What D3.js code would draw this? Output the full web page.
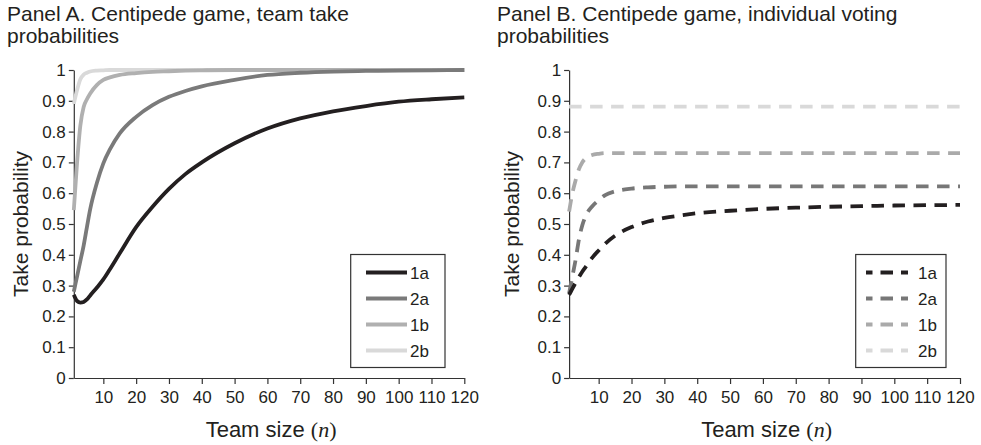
<!DOCTYPE html>
<html><head><meta charset="utf-8">
<script src="https://cdn.jsdelivr.net/npm/d3@7"></script>
<style>
body{margin:0;background:#fff;}
svg{display:block;font-family:"Liberation Sans",Arial,sans-serif;}
</style></head>
<body><svg id="c" width="981" height="445"></svg>
<script>
const seriesNames = ["1a","2a","1b","2b"];
const xTicks = [10,20,30,40,50,60,70,80,90,100,110,120];
const yTicks = [0,0.1,0.2,0.3,0.4,0.5,0.6,0.7,0.8,0.9,1];

const nA = [1,2,3,4,5,6,8,10,12,15,20,25,30,35,40,50,60,70,80,90,100,110,120];
const a_1a = [0.27,0.25,0.245,0.247,0.255,0.268,0.293,0.32,0.353,0.405,0.49,0.556,0.614,0.662,0.70,0.762,0.81,0.843,0.866,0.883,0.897,0.905,0.911];
const a_2a = [0.28,0.33,0.38,0.43,0.49,0.548,0.632,0.697,0.742,0.794,0.848,0.886,0.913,0.932,0.947,0.968,0.984,0.991,0.995,0.997,0.998,0.999,1.0];
const a_1b = [0.545,0.70,0.82,0.88,0.905,0.924,0.951,0.968,0.976,0.984,0.99,0.994,0.996,0.998,0.999,1,1,1,1,1,1,1,1];
const a_2b = [0.89,0.935,0.97,0.985,0.991,0.995,0.998,0.999,1,1,1,1,1,1,1,1,1,1,1,1,1,1,1];

const nB = [1,2,3,4,5,6,8,10,12,15,20,25,30,35,40,50,60,70,80,90,100,110,120];
const b_1a = [0.27,0.29,0.31,0.328,0.345,0.36,0.39,0.414,0.436,0.462,0.49,0.508,0.52,0.528,0.535,0.543,0.549,0.553,0.556,0.558,0.56,0.561,0.562];
const b_2a = [0.275,0.33,0.385,0.45,0.495,0.525,0.557,0.577,0.594,0.606,0.615,0.619,0.621,0.622,0.622,0.622,0.622,0.622,0.622,0.622,0.622,0.622,0.622];
const b_1b = [0.54,0.60,0.643,0.678,0.70,0.713,0.724,0.728,0.73,0.73,0.73,0.73,0.73,0.73,0.73,0.73,0.73,0.73,0.73,0.73,0.73,0.73,0.73];
const b_2b = [0.881,0.881,0.881,0.881,0.881,0.881,0.881,0.881,0.881,0.881,0.881,0.881,0.881,0.881,0.881,0.881,0.881,0.881,0.881,0.881,0.881,0.881,0.881];

const colorsA = ["#231f20","#7a7a7a","#b0b0b0","#d9d9d9"];
const colorsB = ["#231f20","#777777","#aaaaaa","#d9d9d9"];

const svg = d3.select("#c");
const axisColor = "#333";
const textColor = "#231f20";

function panel(opts){
  const g = svg.append("g");
  const x = d3.scaleLinear().domain([1,120]).range([opts.x0, opts.x1]);
  const y = d3.scaleLinear().domain([0,1]).range([378,70]);

  const t = g.append("text").attr("font-size", 21).attr("fill", textColor);
  t.append("tspan").attr("x", opts.tx).attr("y", 21).text(opts.title1);
  t.append("tspan").attr("x", opts.tx).attr("y", 43).text(opts.title2);

  const ya = g.append("g").attr("transform", `translate(${opts.x0},0)`)
    .call(d3.axisLeft(y).tickValues(yTicks).tickFormat(d3.format("~g")).tickSize(5).tickSizeOuter(0).tickPadding(3));
  const xa = g.append("g").attr("transform", `translate(0,378)`)
    .call(d3.axisBottom(x).tickValues(xTicks).tickSize(6).tickSizeOuter(0).tickPadding(7));
  [ya, xa].forEach(a => {
    a.selectAll("path,line").attr("stroke", axisColor).attr("stroke-width", 1.2);
    a.selectAll("text").attr("font-size", 17).attr("fill", textColor)
      .attr("font-family", '"Liberation Sans",Arial,sans-serif');
  });

  g.append("text").attr("transform", `translate(${opts.ylx},224) rotate(-90)`)
    .attr("text-anchor","middle").attr("font-size", 21).attr("fill", textColor)
    .text("Take probability");

  const xl = g.append("text").attr("x", (opts.x0+opts.x1)/2 + 2).attr("y", 437)
    .attr("text-anchor","middle").attr("font-size", 22).attr("fill", textColor);
  xl.append("tspan").text("Team size ");
  xl.append("tspan").attr("font-family",'"Liberation Serif","Times New Roman",serif').text("(");
  xl.append("tspan").attr("font-family",'"Liberation Serif","Times New Roman",serif').attr("font-style","italic").text("n");
  xl.append("tspan").attr("font-family",'"Liberation Serif","Times New Roman",serif').text(")");

  const line = d3.line().x(d => x(d[0])).y(d => y(d[1])).curve(d3.curveMonotoneX);
  [3,2,1,0].forEach(i => {
    const pts = opts.n.map((nv,k) => [nv, opts.data[i][k]]);
    g.append("path").datum(pts).attr("d", line)
      .attr("fill","none").attr("stroke", opts.colors[i]).attr("stroke-width", 3.8)
      .attr("stroke-dasharray", opts.dashed ? "12.5,8.5" : null)
      .attr("stroke-linejoin","round");
  });

  const lg = g.append("g");
  lg.append("rect").attr("x", opts.lx0).attr("y", 254.5).attr("width", opts.lx1-opts.lx0).attr("height", 113)
    .attr("fill","#fff").attr("stroke", axisColor).attr("stroke-width", 1.2);
  seriesNames.forEach((s,i) => {
    const yy = 272.5 + i*26;
    lg.append("line").attr("x1", opts.lLine0).attr("x2", opts.lLine1).attr("y1", yy).attr("y2", yy)
      .attr("stroke", opts.colors[i]).attr("stroke-width", 3.8)
      .attr("stroke-dasharray", opts.dashed ? "12.5,8" : null)
      .attr("stroke-dashoffset", opts.dashed ? 6 : null);
    lg.append("text").attr("x", opts.lText).attr("y", yy + 6).attr("font-size", 17)
      .attr("fill", textColor).text(s);
  });
}

panel({x0:73.8, x1:464.3, tx:7, title1:"Panel A. Centipede game, team take", title2:"probabilities",
  ylx:28, n:nA, data:[a_1a,a_2a,a_1b,a_2b], colors:colorsA, dashed:false,
  lx0:350.7, lx1:445, lLine0:366, lLine1:407, lText:410});
panel({x0:569.1, x1:960, tx:497, title1:"Panel B. Centipede game, individual voting", title2:"probabilities",
  ylx:519, n:nB, data:[b_1a,b_2a,b_1b,b_2b], colors:colorsB, dashed:true,
  lx0:855.7, lx1:946, lLine0:866, lLine1:908, lText:918});
</script></body></html>
